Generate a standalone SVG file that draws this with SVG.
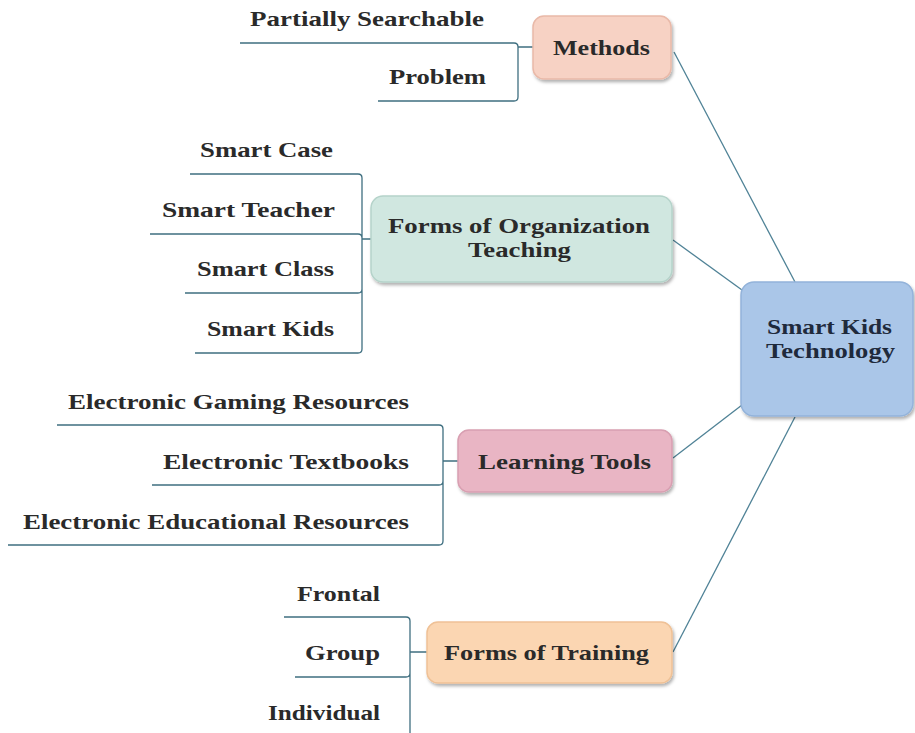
<svg xmlns="http://www.w3.org/2000/svg" width="915" height="733" viewBox="0 0 915 733">
<style>
.t{font-family:"Liberation Serif","Times New Roman",serif;font-weight:bold;font-size:21px;fill:#2a2a2a}
.c{fill:#1f2a3c}
.br{fill:none;stroke:#3f6f80;stroke-width:1.3}
.ln{fill:none;stroke:#4f8296;stroke-width:1.3}
.box{stroke-width:1.5}
</style>
<defs>
<filter id="sh" x="-10%" y="-10%" width="125%" height="130%">
<feDropShadow dx="1.5" dy="2.5" stdDeviation="1.5" flood-color="#000" flood-opacity="0.3"/>
</filter>
</defs>
<g id="connectors">
<path class="ln" d="M795 282 L674 52"/>
<path class="ln" d="M742 290 L673 240"/>
<path class="ln" d="M742 405 L673 458"/>
<path class="ln" d="M795 417 L673 652"/>
<path class="br" d="M240 43 H514 Q518 43 518 47 V97 Q518 101 514 101 H378 M518 47 H533"/>
<path class="br" d="M190 174 H358 Q362 174 362 178 V349 Q362 353 358 353 H195 M150 234 H358 Q362 234 362 238 M185 293 H358 Q362 293 362 289 M362 239 H371"/>
<path class="br" d="M57 425 H439 Q443 425 443 429 V541 Q443 545 439 545 H8 M152 485 H439 Q443 485 443 481 M443 461 H458"/>
<path class="br" d="M284 617 H406 Q410 617 410 621 V733 M295 677 H406 Q410 677 410 673 M410 652 H427"/>
</g>
<g id="leaf-partially-searchable"><text class="t" x="250" y="26" textLength="234" lengthAdjust="spacingAndGlyphs">Partially Searchable</text></g>
<g id="leaf-problem"><text class="t" x="389" y="84" textLength="97" lengthAdjust="spacingAndGlyphs">Problem</text></g>
<g id="node-methods">
<rect class="box" x="533" y="16" width="138" height="63" rx="11" fill="#f7d2c4" stroke="#e9b9a8" filter="url(#sh)"/>
<text class="t" x="553" y="55" textLength="97" lengthAdjust="spacingAndGlyphs">Methods</text>
</g>
<g id="leaf-smart-case"><text class="t" x="200" y="157" textLength="133" lengthAdjust="spacingAndGlyphs">Smart Case</text></g>
<g id="leaf-smart-teacher"><text class="t" x="162" y="217" textLength="173" lengthAdjust="spacingAndGlyphs">Smart Teacher</text></g>
<g id="leaf-smart-class"><text class="t" x="197" y="276" textLength="137" lengthAdjust="spacingAndGlyphs">Smart Class</text></g>
<g id="leaf-smart-kids"><text class="t" x="207" y="336" textLength="127" lengthAdjust="spacingAndGlyphs">Smart Kids</text></g>
<g id="node-forms-org">
<rect class="box" x="371" y="196" width="301" height="86" rx="12" fill="#d0e7e0" stroke="#b5d3ca" filter="url(#sh)"/>
<text class="t" x="388" y="233" textLength="262" lengthAdjust="spacingAndGlyphs">Forms of Organization</text>
<text class="t" x="468" y="257" textLength="103" lengthAdjust="spacingAndGlyphs">Teaching</text>
</g>
<g id="node-center">
<rect class="box" x="741" y="282" width="172" height="134" rx="13" fill="#aac6e8" stroke="#93b3da" filter="url(#sh)"/>
<text class="t c" x="767" y="334" textLength="125" lengthAdjust="spacingAndGlyphs">Smart Kids</text>
<text class="t c" x="766" y="358" textLength="129" lengthAdjust="spacingAndGlyphs">Technology</text>
</g>
<g id="leaf-gaming"><text class="t" x="68" y="409" textLength="341" lengthAdjust="spacingAndGlyphs">Electronic Gaming Resources</text></g>
<g id="leaf-textbooks"><text class="t" x="163" y="469" textLength="246" lengthAdjust="spacingAndGlyphs">Electronic Textbooks</text></g>
<g id="leaf-educational"><text class="t" x="23" y="529" textLength="386" lengthAdjust="spacingAndGlyphs">Electronic Educational Resources</text></g>
<g id="node-learning-tools">
<rect class="box" x="458" y="430" width="214" height="62" rx="11" fill="#e9b5c4" stroke="#d89fb1" filter="url(#sh)"/>
<text class="t" x="478" y="469" textLength="173" lengthAdjust="spacingAndGlyphs">Learning Tools</text>
</g>
<g id="leaf-frontal"><text class="t" x="297" y="601" textLength="83" lengthAdjust="spacingAndGlyphs">Frontal</text></g>
<g id="leaf-group"><text class="t" x="305" y="660" textLength="75" lengthAdjust="spacingAndGlyphs">Group</text></g>
<g id="leaf-individual"><text class="t" x="268" y="720" textLength="112" lengthAdjust="spacingAndGlyphs">Individual</text></g>
<g id="node-forms-training">
<rect class="box" x="427" y="622" width="245" height="61" rx="11" fill="#fbd6b2" stroke="#efc196" filter="url(#sh)"/>
<text class="t" x="444" y="660" textLength="205" lengthAdjust="spacingAndGlyphs">Forms of Training</text>
</g>
</svg>
